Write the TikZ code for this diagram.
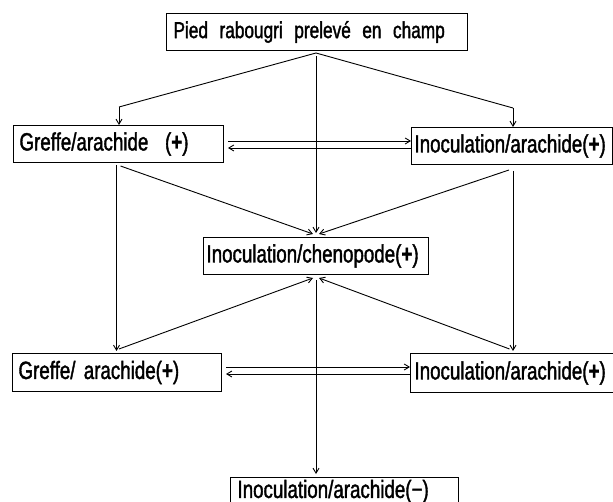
\documentclass[tikz,border=0pt]{standalone}
\usepackage{fontspec}
\setmainfont{Liberation Sans}[FakeStretch=0.75,FakeBold=1.5]
\usetikzlibrary{arrows.meta,calc}
\begin{document}
\begin{tikzpicture}[x=1pt,y=-1pt,
  box/.style={draw, line width=1pt, anchor=north west, align=left, inner ysep=0pt,
    font=\fontsize{25}{27}\selectfont},
  arr/.style={line width=0.9pt, -{Straight Barb[length=5pt,width=6pt]}}]
\useasboundingbox (0,0) rectangle (613,502);
\clip (0,0) rectangle (613,502);
% boxes
\node[box, minimum width=301pt, minimum height=37pt, text width=287pt, inner xsep=7pt,
  font=\fontsize{23}{25}\selectfont] (top) at (166,13) {Pied\, rabougri\, prelevé\, en\, champ};
\node[box, minimum width=210pt, minimum height=37pt, text width=198pt, inner xsep=6pt] (g1) at (13,125) {Greffe/arachide\ \ ({\bfseries +})};
\node[box, minimum width=201pt, minimum height=37pt, text width=195pt, inner xsep=3pt] (i1) at (411,127) {Inoculation/arachide({\bfseries +})};
\node[box, minimum width=225pt, minimum height=37pt, text width=219pt, inner xsep=3pt] (ch) at (203,237) {Inoculation/chenopode({\bfseries +})};
\node[box, minimum width=209pt, minimum height=38pt, text width=197pt, inner xsep=6pt] (g2) at (12,353) {Greffe/ arachide({\bfseries +})};
\node[box, minimum width=212pt, minimum height=39pt, text width=204pt, inner xsep=4pt] (i2) at (410,353) {Inoculation/arachide({\bfseries +})};
\node[box, minimum width=228pt, minimum height=28pt, text width=214pt, inner xsep=7pt] (bot) at (230,477) {Inoculation/arachide(−)};
% bend points
\coordinate (bl) at (119,107);
\coordinate (br) at (513,108);
\coordinate (src) at (316,53);
% from top box
\draw[line width=0.9pt] (src) -- (bl);
\draw[arr] (bl) -- (bl |- g1.north);
\draw[line width=0.9pt] (src) -- (br);
\draw[arr] (br) -- (br |- i1.north);
\draw[arr] (src) ++(0,3) -- ([yshift=4pt]ch.north);
% to chenopode from row 1
\draw[arr] ([xshift=2pt,yshift=-3pt]g1.south) -- ([xshift=-3pt,yshift=3pt]ch.north);
\draw[arr] ([xshift=-3pt,yshift=-5pt]i1.south) -- ([xshift=3pt,yshift=3pt]ch.north);
% verticals row 1 -> row 2
\draw[arr] ([xshift=-2pt,yshift=-2pt]g1.south) -- ([xshift=-2pt,yshift=2pt]g1.south |- g2.north);
\draw[arr] ([xshift=1pt,yshift=-6pt]i1.south) -- ([xshift=1pt,yshift=2pt]i1.south |- i2.north);
% row 2 -> chenopode
\draw[arr] ([xshift=2pt,yshift=4pt]g2.north) -- ([xshift=-3pt,yshift=-3pt]ch.south);
\draw[arr] ([xshift=-7pt,yshift=4pt]i2.north) -- ([xshift=3pt,yshift=-3pt]ch.south);
% chenopode -> bottom
\draw[arr] ([yshift=-5pt]ch.south) -- ([yshift=3pt]ch.south |- bot.north);
% double arrows
\draw[arr] ([xshift=4pt]g1.east |- 0,141) -- (i1.west |- 0,141);
\draw[arr] (i1.west |- 0,148) -- ([xshift=4pt]g1.east |- 0,148);
\draw[arr] ([xshift=4pt]g2.east |- 0,367) -- (i2.west |- 0,367);
\draw[arr] (i2.west |- 0,374) -- ([xshift=4pt]g2.east |- 0,374);
\end{tikzpicture}
\end{document}
